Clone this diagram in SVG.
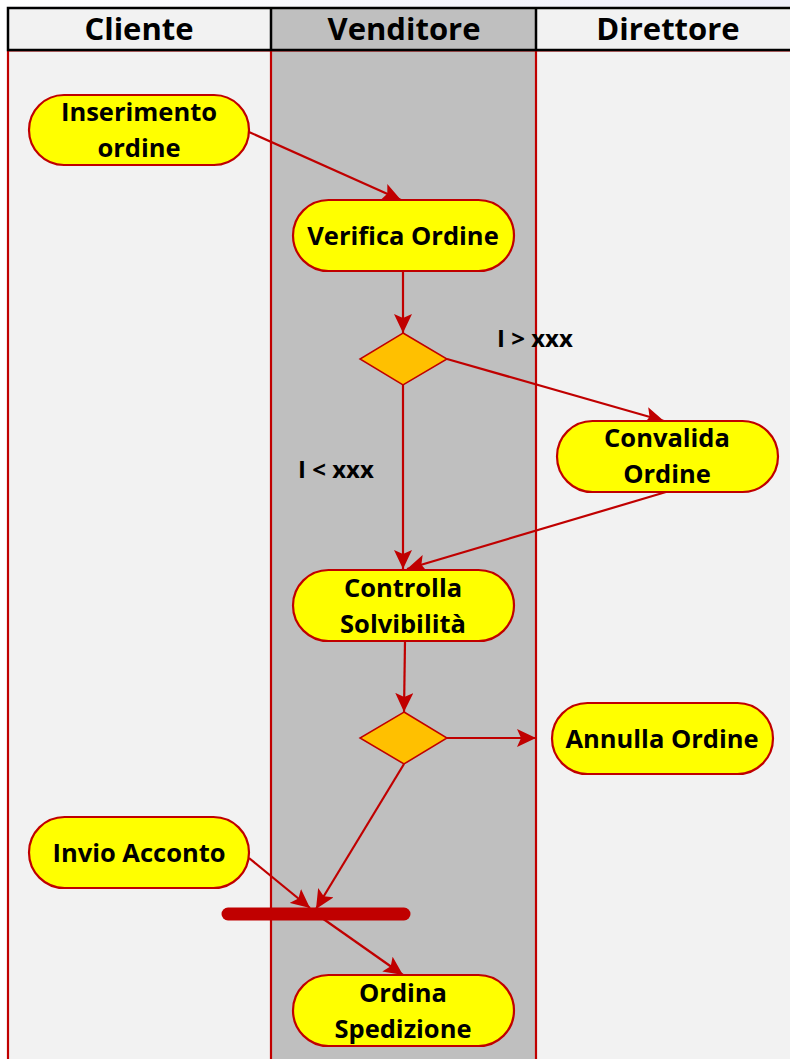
<svg xmlns="http://www.w3.org/2000/svg" width="790" height="1059" viewBox="0 0 790 1059">
  <defs>
    <marker id="arrow" markerUnits="userSpaceOnUse" markerWidth="20" markerHeight="18" refX="19" refY="9" orient="auto">
      <path d="M0,0 L19,9 L0,18 L4,9 z" fill="#c00000"/>
    </marker>
    <linearGradient id="slideBg" x1="0" y1="0" x2="1" y2="0">
      <stop offset="0" stop-color="#ffffff"/>
      <stop offset="1" stop-color="#eeeefa"/>
    </linearGradient>
  </defs>
  <style>
    .lane { fill: #f2f2f2; }
    .lane-mid { fill: #bfbfbf; }
    .lane-line { stroke: #c00000; stroke-width: 2.2; fill: none; }
    .head { stroke: #000000; stroke-width: 2.5; }
    .head-text { font-family: "Open Sans", Lato, sans-serif; font-weight: bold; font-size: 31px; fill: #000000; text-anchor: middle; }
    .action rect { fill: #ffff00; stroke: #c00000; stroke-width: 2.2; }
    .action text, .guard { font-family: "Open Sans", Lato, sans-serif; font-weight: bold; font-size: 25.5px; fill: #000000; text-anchor: middle; }
    .guard { text-anchor: start; font-size: 24px; }
    .decision polygon { fill: #ffc000; stroke: #c00000; stroke-width: 1.5; }
    .flow { stroke: #c00000; stroke-width: 2.2; fill: none; marker-end: url(#arrow); }
  </style>

  <!-- page background -->
  <rect x="0" y="0" width="790" height="1059" fill="url(#slideBg)"/>

  <!-- swimlanes -->
  <g id="lanes">
    <rect class="lane" x="7" y="7" width="264" height="1052"/>
    <rect class="lane-mid" x="271" y="7" width="265" height="1052"/>
    <rect class="lane" x="536" y="7" width="254" height="1052"/>
    <line class="lane-line" x1="8" y1="51" x2="8" y2="1059" stroke-width="3"/>
    <line class="lane-line" x1="271" y1="51" x2="271" y2="1059"/>
    <line class="lane-line" x1="536" y1="51" x2="536" y2="1059"/>
    <line x1="7" y1="51.5" x2="790" y2="51.5" stroke="#c00000" stroke-width="1" opacity="0.5"/>
    <!-- header row -->
    <rect class="head" x="8" y="8" width="800" height="42" fill="none"/>
    <line class="head" x1="271" y1="8" x2="271" y2="50"/>
    <line class="head" x1="536" y1="8" x2="536" y2="50"/>
    <text class="head-text" x="139" y="40">Cliente</text>
    <text class="head-text" x="404" y="40">Venditore</text>
    <text class="head-text" x="668" y="40">Direttore</text>
  </g>

  <!-- connectors -->
  <g id="connectors">
    <line class="flow" x1="249" y1="132" x2="401" y2="200"/>
    <line class="flow" x1="403" y1="271" x2="403" y2="333"/>
    <line class="flow" x1="447" y1="359" x2="664" y2="421"/>
    <line class="flow" x1="403" y1="385" x2="403" y2="569"/>
    <line class="flow" x1="666" y1="492" x2="407" y2="569"/>
    <line class="flow" x1="405" y1="641" x2="404" y2="712"/>
    <line class="flow" x1="447" y1="738" x2="536" y2="738"/>
    <line class="flow" x1="404" y1="764" x2="316" y2="909"/>
    <line class="flow" x1="249" y1="858" x2="310" y2="908"/>
    <line class="flow" x1="322" y1="918" x2="403" y2="975"/>
    <text class="guard" x="497" y="347">I &gt; xxx</text>
    <text class="guard" x="298" y="478">I &lt; xxx</text>
  </g>

  <!-- fork / join bar -->
  <g id="join">
    <line x1="228" y1="914" x2="404" y2="914" stroke="#c00000" stroke-width="13" stroke-linecap="round"/>
  </g>

  <!-- actions -->
  <g id="inserimento-ordine" class="action">
    <rect x="29" y="95" width="220" height="70" rx="35"/>
    <text x="139" y="121">Inserimento</text>
    <text x="139" y="157">ordine</text>
  </g>
  <g id="verifica-ordine" class="action">
    <rect x="293" y="200" width="221" height="71" rx="35.5"/>
    <text x="403" y="245">Verifica Ordine</text>
  </g>
  <g id="decisione-importo" class="decision">
    <polygon points="403,333 447,359 403,385 360,359"/>
  </g>
  <g id="convalida-ordine" class="action">
    <rect x="557" y="421" width="221" height="71" rx="35.5"/>
    <text x="667" y="447">Convalida</text>
    <text x="667" y="483">Ordine</text>
  </g>
  <g id="controlla-solvibilita" class="action">
    <rect x="293" y="570" width="221" height="71" rx="35.5"/>
    <text x="403" y="597">Controlla</text>
    <text x="403" y="633">Solvibilità</text>
  </g>
  <g id="decisione-solvibilita" class="decision">
    <polygon points="404,712 447,738 404,764 360,738"/>
  </g>
  <g id="annulla-ordine" class="action">
    <rect x="552" y="703" width="221" height="71" rx="35.5"/>
    <text x="662" y="748">Annulla Ordine</text>
  </g>
  <g id="invio-acconto" class="action">
    <rect x="29" y="817" width="220" height="71" rx="35.5"/>
    <text x="139" y="862">Invio Acconto</text>
  </g>
  <g id="ordina-spedizione" class="action">
    <rect x="293" y="975" width="221" height="71" rx="35.5"/>
    <text x="403" y="1002">Ordina</text>
    <text x="403" y="1038">Spedizione</text>
  </g>
</svg>
